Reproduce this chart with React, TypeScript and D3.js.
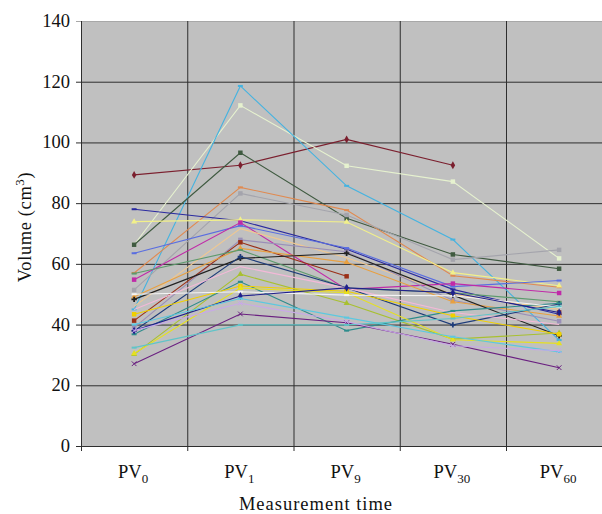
import { useEffect, useRef } from "react";
import * as d3 from "d3";

const categories = ["0", "1", "9", "30", "60"];
const yTicks = [0, 20, 40, 60, 80, 100, 120, 140];

// one entry per patient: colour, marker type, volumes at PV0, PV1, PV9, PV30, PV60
const seriesColors = [
  "#7b1f2e", "#e6f2cf", "#45b3e0", "#3f5a40", "#e08a50", "#a4a4ac", "#2a2aa0",
  "#f2f08a", "#5a6ee0", "#c02aa8", "#f0c890", "#9a8fb8", "#9a3018", "#e8a040",
  "#5c9a6c", "#222222", "#1e3c7a", "#f4b8d8", "#a8c030", "#2e8c8c", "#f0d000",
  "#e6e020", "#f4f4f4", "#20208c", "#5cc8e0", "#6a2080", "#60c4c8", "#c8a8e8",
];
const seriesMarkers = [
  "diamond", "square", "dash", "square", "dash", "square", "dash",
  "triangle", "dash", "square", "none", "square", "square", "triangle",
  "dash", "plus", "plus", "none", "triangle", "dash", "square",
  "triangle", "dash", "diamond", "dash", "x", "dash", "x",
];
const seriesValues: (number | null)[][] = [
  [89.3, 92.5, 101, 92.5, null],
  [66.3, 112.2, 92.3, 87.1, 61.8],
  [45, 118.6, 85.7, 68.0, 34.9],
  [66.3, 96.6, 75.0, 63.1, 58.4],
  [57, 85.2, 77.7, 56.1, 52.3],
  [51.4, 83.2, 76.1, 61.4, 64.6],
  [78.0, 74.2, 64.8, 51.6, 43.4],
  [73.9, 74.5, 73.8, 57.1, 52.8],
  [63.5, 72.6, 65.2, 52.5, 54.5],
  [54.8, 73.6, 51.6, 53.5, 50.4],
  [46, 71.6, 62, 50, 45],
  [39, 67.9, 64, 48, 41.1],
  [41.3, 67.1, 55.9, null, 44.0],
  [49.2, 65.1, 60.5, 47.5, 42.8],
  [56.8, 64.6, 52, 50.5, 47.5],
  [48.3, 61.8, 63.5, 49.7, 36.3],
  [37.9, 62.4, 52.1, 39.9, 46.8],
  [45, 59.1, 52, 44, 40],
  [30.2, 56.6, 47.0, 35.2, 37.2],
  [36.8, 54.1, 38.0, 44.5, 47.0],
  [43.4, 52.7, 51.0, 42.9, 36.8],
  [30.5, 52.0, 50.5, 35.0, 33.8],
  [50, 50.8, 49.7, 49.5, 45.8],
  [38, 49.4, 52.1, 50.5, 44],
  [40, 48.6, 42.3, 36, 31],
  [27.1, 43.5, 40.6, 33.5, 25.8],
  [32.4, 39.9, 39.9, 42, 46],
  [38, 47, 41, 33.0, 31.4],
];

const FONT = "'Liberation Serif', 'Times New Roman', serif";

const App = () => {
  const svgRef = useRef<SVGSVGElement>(null);

  useEffect(() => {
    const left = 81;
    const top = 21;
    const bottom = 446;
    const band = 106.25;

    const svg = d3.select(svgRef.current);
    svg.selectAll("*").remove();

    const x = d3.scaleBand().domain(categories).range([left, left + band * categories.length]).padding(0);
    const y = d3.scaleLinear().domain([0, 140]).range([bottom, top]);
    const cx = (c: string) => (x(c) as number) + x.bandwidth() / 2;
    const right = left + band * categories.length;

    // plot background
    svg.append("rect")
      .attr("x", left).attr("y", top)
      .attr("width", right - left).attr("height", bottom - top)
      .attr("fill", "#c0c0c0");

    // horizontal grid
    svg.selectAll("line.hgrid")
      .data(yTicks)
      .enter()
      .append("line")
      .attr("class", "hgrid")
      .attr("x1", left - 5).attr("x2", right)
      .attr("y1", (d) => y(d) + 0.5).attr("y2", (d) => y(d) + 0.5)
      .attr("stroke", (d) => (d === 140 ? "#a8a8a8" : "#2e2e2e"))
      .attr("stroke-width", 1);

    // vertical grid at band edges
    svg.selectAll("line.vgrid")
      .data(categories)
      .enter()
      .append("line")
      .attr("class", "vgrid")
      .attr("x1", (d) => (x(d) as number) + 0.5).attr("x2", (d) => (x(d) as number) + 0.5)
      .attr("y1", top).attr("y2", bottom + 5)
      .attr("stroke", "#2e2e2e");

    // y tick labels
    svg.selectAll("text.ytick")
      .data(yTicks)
      .enter()
      .append("text")
      .attr("class", "ytick")
      .attr("x", left - 11)
      .attr("y", (d) => y(d) + 6)
      .attr("text-anchor", "end")
      .attr("font-family", FONT)
      .attr("font-size", 18.5)
      .attr("fill", "#111")
      .text((d) => d);

    // x labels with subscripts
    const xl = svg.selectAll("text.xtick")
      .data(categories)
      .enter()
      .append("text")
      .attr("class", "xtick")
      .attr("x", (d) => cx(d) - 1)
      .attr("y", 478)
      .attr("text-anchor", "middle")
      .attr("font-family", FONT)
      .attr("font-size", 18.5)
      .attr("fill", "#111");
    xl.append("tspan").text("PV");
    xl.append("tspan").attr("dy", 5).attr("font-size", 13).text((d) => d);

    // axis titles
    svg.append("text")
      .attr("x", 316).attr("y", 510)
      .attr("text-anchor", "middle")
      .attr("font-family", FONT)
      .attr("font-size", 18.5)
      .attr("letter-spacing", 1)
      .attr("fill", "#111")
      .text("Measurement time");

    const yt = svg.append("text")
      .attr("transform", "translate(31,227) rotate(-90)")
      .attr("text-anchor", "middle")
      .attr("font-family", FONT)
      .attr("font-size", 18.5)
      .attr("letter-spacing", 0.6)
      .attr("fill", "#111");
    yt.append("tspan").text("Volume (cm");
    yt.append("tspan").attr("dy", -7).attr("font-size", 13).text("3");
    yt.append("tspan").attr("dy", 7).text(")");

    // series lines
    const line = d3.line<number | null>()
      .defined((d) => d !== null)
      .x((_, i) => cx(categories[i]))
      .y((d) => y(d as number));

    seriesValues.forEach((vals, s) => {
      const color = seriesColors[s];
      svg.append("path")
        .attr("d", line(vals))
        .attr("fill", "none")
        .attr("stroke", color)
        .attr("stroke-width", 1.1);

      const pts = vals
        .map((v, i) => ({ v, c: categories[i] }))
        .filter((p) => p.v !== null);
      const m = seriesMarkers[s];
      const g = svg.append("g");
      pts.forEach((p) => {
        const px = cx(p.c);
        const py = y(p.v as number);
        if (m === "none") return;
        if (m === "dash") {
          g.append("rect").attr("x", px - 2.5).attr("y", py - 1).attr("width", 5).attr("height", 2).attr("fill", color);
          return;
        }
        const type =
          m === "diamond" ? d3.symbolDiamond
          : m === "square" ? d3.symbolSquare
          : m === "triangle" ? d3.symbolTriangle
          : m === "plus" ? d3.symbolCross
          : d3.symbolX;
        const size = m === "square" ? 20 : m === "diamond" ? 18 : 16;
        const sym = d3.symbol().type(type).size(size);
        const el = g.append("path")
          .attr("d", sym() as string)
          .attr("transform", `translate(${px},${py})`);
        if (m === "x") el.attr("fill", "none").attr("stroke", color).attr("stroke-width", 1);
        else el.attr("fill", color);
      });
    });
  }, []);

  return (
    <svg
      ref={svgRef}
      width={602}
      height={514}
      style={{ position: "absolute", left: 0, top: 0, background: "#fff" }}
    ></svg>
  );
};

export default App;
